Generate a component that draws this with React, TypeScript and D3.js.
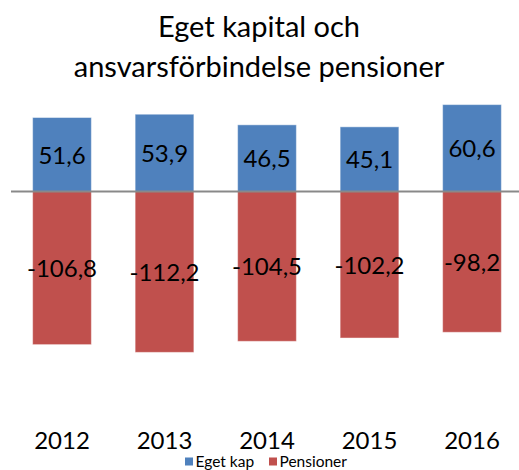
import React from "react";
import * as d3 from "d3";

const years = ["2012", "2013", "2014", "2015", "2016"];
const egetKap = [51.6, 53.9, 46.5, 45.1, 60.6];
const pensioner = [-106.8, -112.2, -104.5, -102.2, -98.2];
const titleLines = ["Eget kapital och", "ansvarsförbindelse pensioner"];
const seriesNames = ["Eget kap", "Pensioner"];
const colors = ["#4F81BD", "#C0504D"];

const W = 519;
const H = 470;
const FONT = "Lato, 'Open Sans', sans-serif";

export default function App() {
  const x = d3.scaleBand<string>().domain(years).range([10.75, 523.25]).padding(0);
  const y = d3.scaleLinear().domain([-160, 80]).range([420.9, 76.8]);
  const barW = x.bandwidth() * 0.573;
  const fmt = (v: number) => v.toFixed(1).replace(".", ",");
  const series = [egetKap, pensioner];

  return (
    <svg
      width={W}
      height={H}
      style={{ position: "absolute", left: 0, top: 0, background: "#fff" }}
      fontFamily={FONT}
    >
      {titleLines.map((t, i) => (
        <text key={t} x={259} y={36.5 + i * 40} textAnchor="middle" fontSize={29} fill="#000">
          {t}
        </text>
      ))}
      {series.map((vals, si) =>
        vals.map((v, i) => {
          const cx = (x(years[i]) as number) + x.bandwidth() / 2;
          const y0 = y(0);
          const y1 = y(v);
          const top = Math.min(y0, y1);
          const h = Math.abs(y1 - y0);
          return (
            <g key={`${si}-${i}`}>
              <rect
                x={cx - barW / 2}
                y={top}
                width={barW}
                height={h}
                fill={colors[si]}
                stroke="rgba(255,255,255,0.45)"
                strokeWidth={1}
              />
              <text
                x={cx}
                y={top + h / 2 + 9}
                textAnchor="middle"
                fontSize={24}
                fill="#000"
              >
                {fmt(v)}
              </text>
            </g>
          );
        })
      )}
      <line x1={11} x2={W} y1={y(0)} y2={y(0)} stroke="#898989" strokeWidth={2} />
      {years.map((yr) => (
        <text
          key={yr}
          x={(x(yr) as number) + x.bandwidth() / 2}
          y={449}
          textAnchor="middle"
          fontSize={24}
          fill="#000"
        >
          {yr}
        </text>
      ))}
      <g>
        <rect x={185} y={457.5} width={8} height={8} fill={colors[0]} />
        <text x={195.5} y={466.5} fontSize={15.5} fill="#000">{seriesNames[0]}</text>
        <rect x={269} y={457.5} width={8} height={8} fill={colors[1]} />
        <text x={279.5} y={466.5} fontSize={15.5} fill="#000">{seriesNames[1]}</text>
      </g>
    </svg>
  );
}
